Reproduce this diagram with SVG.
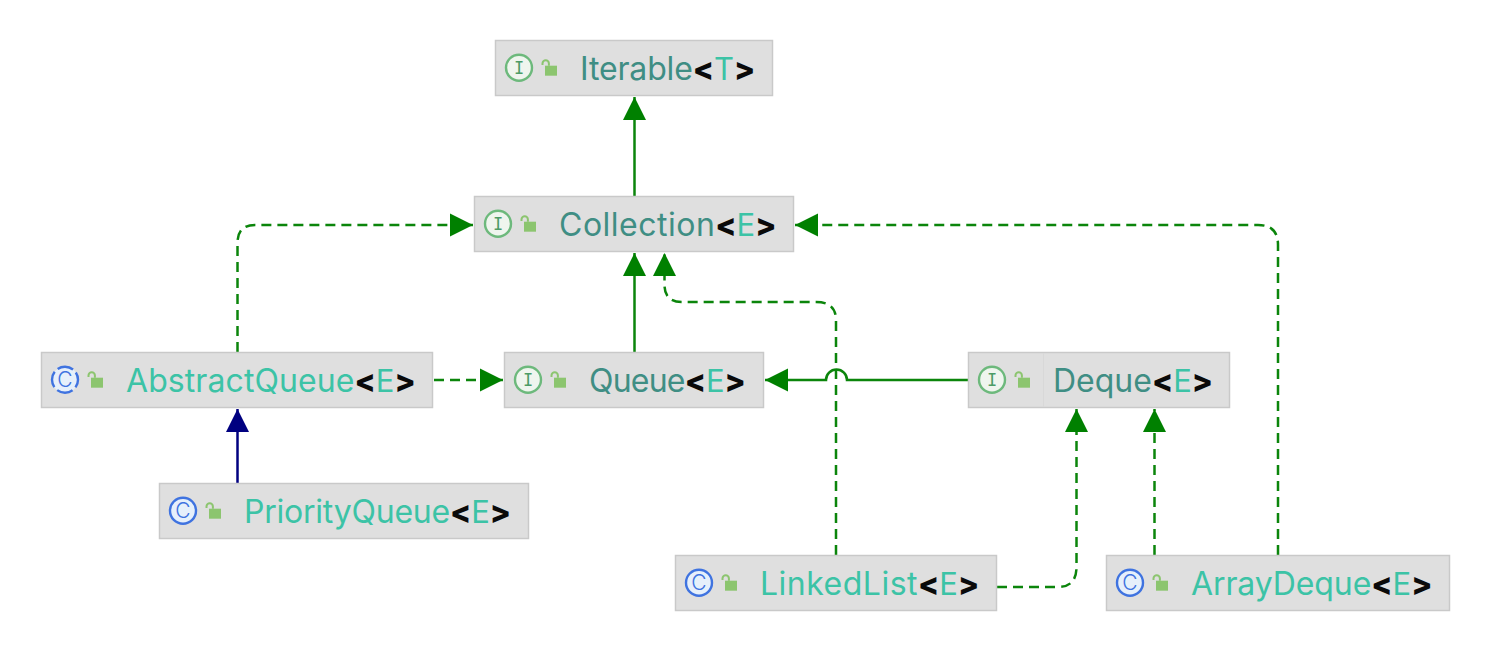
<svg xmlns="http://www.w3.org/2000/svg" width="1490" height="668" viewBox="0 0 1490 668">
<style>
.box{fill:#dfdfdf;stroke:#c9c9c9;stroke-width:1.5}
.t{font-family:Inter,"Noto Sans","Liberation Sans",sans-serif;font-size:32px;font-weight:400}
.i{fill:#3f8e84}.c{fill:#3cc3a6}.v{fill:#3cc3a6;font-size:31px}
.b{fill:#0a0a0a;font-weight:800;font-size:31px}
.ii{fill:#eff5ee;stroke:#6db97c;stroke-width:2.4}
.ci{fill:#e6f0fb;stroke:#3f73e0;stroke-width:2.4}
.ai{fill:#e6f0fb;stroke:#3f73e0;stroke-width:2.4;stroke-dasharray:16.400 4.030;stroke-dashoffset:8.200}
.il{font-family:"DejaVu Sans Mono","Liberation Mono",monospace;font-size:17px;text-anchor:middle;fill:#4c9c66}
.cl{font-family:Inter,"Liberation Sans",sans-serif;font-size:21px;font-weight:300;text-anchor:middle;fill:#3f73e0}
.lk{fill:#8cc56f}
.sh{fill:none;stroke:#8cc56f;stroke-width:2}
.g{fill:none;stroke:#0b850b;stroke-width:2.5}
.d{stroke-dasharray:10 6}
.n{fill:none;stroke:#000080;stroke-width:2.5}
</style>
<defs>
<marker id="ag" markerUnits="userSpaceOnUse" markerWidth="24" markerHeight="24" refX="23" refY="12" orient="auto"><path d="M0 0.500L23 12L0 23.500Z" fill="#008000"/></marker>
<marker id="an" markerUnits="userSpaceOnUse" markerWidth="24" markerHeight="24" refX="23" refY="12" orient="auto"><path d="M0 0.500L23 12L0 23.500Z" fill="#000080"/></marker>
</defs>
<rect width="1490" height="668" fill="#ffffff"/>
<g id="connectors">
<path class="g" d="M634.500 196V97" marker-end="url(#ag)"/>
<path class="g d" d="M237.500 352V243Q237.500 225 255 225H473" marker-end="url(#ag)"/>
<path class="g d" d="M1278 555V245Q1278 225 1258 225H795" marker-end="url(#ag)"/>
<path class="g" d="M634.500 352V253" marker-end="url(#ag)"/>
<path class="g d" d="M836 555V320Q836 302 816 302H682Q664.500 302 664.500 285V253" marker-end="url(#ag)"/>
<path class="g d" d="M434 380H503" marker-end="url(#ag)"/>
<path class="g" d="M968 380H847A10.500 10.500 0 0 0 826 380H765" marker-end="url(#ag)"/>
<path class="n" d="M237.500 483V409" marker-end="url(#an)"/>
<path class="g d" d="M997 587H1058Q1076.500 587 1076.500 567V409" marker-end="url(#ag)"/>
<path class="g d" d="M1154.500 555V409" marker-end="url(#ag)"/>
</g>
<g id="iterable" transform="translate(495 40)">
<rect class="box" x="0.500" y="0.500" width="277" height="55"/>
<circle class="ii" cx="24" cy="27.700" r="13"/><text class="il" x="24" y="33.700">I</text>
<rect class="lk" x="50" y="25.700" width="12" height="10"/><path class="sh" d="M47.500 25V23.500A3.200 3.200 0 0 1 53.900 23.500V25.700"/>
<text class="t" x="85" y="40"><tspan class="i" letter-spacing="-0.150">Iterable</tspan><tspan class="b">&lt;</tspan><tspan class="v">T</tspan><tspan class="b">&gt;</tspan></text>
</g>
<g id="collection" transform="translate(474 196)">
<rect class="box" x="0.500" y="0.500" width="319" height="55"/>
<circle class="ii" cx="24" cy="27.700" r="13"/><text class="il" x="24" y="33.700">I</text>
<rect class="lk" x="50" y="25.700" width="12" height="10"/><path class="sh" d="M47.500 25V23.500A3.200 3.200 0 0 1 53.900 23.500V25.700"/>
<text class="t" x="85" y="40"><tspan class="i" letter-spacing="0.500">Collection</tspan><tspan class="b">&lt;</tspan><tspan class="v">E</tspan><tspan class="b">&gt;</tspan></text>
</g>
<g id="abstractqueue" transform="translate(41 352)">
<rect class="box" x="0.500" y="0.500" width="391" height="55"/>
<circle class="ai" cx="24" cy="27.700" r="13"/><text class="cl" x="24" y="35">C</text>
<rect class="lk" x="50" y="25.700" width="12" height="10"/><path class="sh" d="M47.500 25V23.500A3.200 3.200 0 0 1 53.900 23.500V25.700"/>
<text class="t" x="85" y="40"><tspan class="c" letter-spacing="0.080">AbstractQueue</tspan><tspan class="b">&lt;</tspan><tspan class="v">E</tspan><tspan class="b">&gt;</tspan></text>
</g>
<g id="queue" transform="translate(504 352)">
<rect class="box" x="0.500" y="0.500" width="259" height="55"/>
<circle class="ii" cx="24" cy="27.700" r="13"/><text class="il" x="24" y="33.700">I</text>
<rect class="lk" x="50" y="25.700" width="12" height="10"/><path class="sh" d="M47.500 25V23.500A3.200 3.200 0 0 1 53.900 23.500V25.700"/>
<text class="t" x="85" y="40"><tspan class="i" letter-spacing="-0.800">Queue</tspan><tspan class="b">&lt;</tspan><tspan class="v">E</tspan><tspan class="b">&gt;</tspan></text>
</g>
<g id="deque" transform="translate(968 352)">
<rect class="box" x="0.500" y="0.500" width="261" height="55"/>
<path d="M75.500 1V55" stroke="#d8d8d8" stroke-width="1"/>
<circle class="ii" cx="24" cy="27.700" r="13"/><text class="il" x="24" y="33.700">I</text>
<rect class="lk" x="50" y="25.700" width="12" height="10"/><path class="sh" d="M47.500 25V23.500A3.200 3.200 0 0 1 53.900 23.500V25.700"/>
<text class="t" x="85" y="40"><tspan class="i">Deque</tspan><tspan class="b">&lt;</tspan><tspan class="v">E</tspan><tspan class="b">&gt;</tspan></text>
</g>
<g id="priorityqueue" transform="translate(159 483)">
<rect class="box" x="0.500" y="0.500" width="369" height="55"/>
<circle class="ci" cx="24" cy="27.700" r="13"/><text class="cl" x="24" y="35">C</text>
<rect class="lk" x="50" y="25.700" width="12" height="10"/><path class="sh" d="M47.500 25V23.500A3.200 3.200 0 0 1 53.900 23.500V25.700"/>
<text class="t" x="85" y="40"><tspan class="c" letter-spacing="-0.230">PriorityQueue</tspan><tspan class="b">&lt;</tspan><tspan class="v">E</tspan><tspan class="b">&gt;</tspan></text>
</g>
<g id="linkedlist" transform="translate(675 555)">
<rect class="box" x="0.500" y="0.500" width="321" height="55"/>
<circle class="ci" cx="24" cy="27.700" r="13"/><text class="cl" x="24" y="35">C</text>
<rect class="lk" x="50" y="25.700" width="12" height="10"/><path class="sh" d="M47.500 25V23.500A3.200 3.200 0 0 1 53.900 23.500V25.700"/>
<text class="t" x="85" y="40"><tspan class="c" letter-spacing="0.500">LinkedList</tspan><tspan class="b">&lt;</tspan><tspan class="v">E</tspan><tspan class="b">&gt;</tspan></text>
</g>
<g id="arraydeque" transform="translate(1106 555)">
<rect class="box" x="0.500" y="0.500" width="343" height="55"/>
<circle class="ci" cx="24" cy="27.700" r="13"/><text class="cl" x="24" y="35">C</text>
<rect class="lk" x="50" y="25.700" width="12" height="10"/><path class="sh" d="M47.500 25V23.500A3.200 3.200 0 0 1 53.900 23.500V25.700"/>
<text class="t" x="85" y="40"><tspan class="c" letter-spacing="-0.100">ArrayDeque</tspan><tspan class="b">&lt;</tspan><tspan class="v">E</tspan><tspan class="b">&gt;</tspan></text>
</g>
</svg>
